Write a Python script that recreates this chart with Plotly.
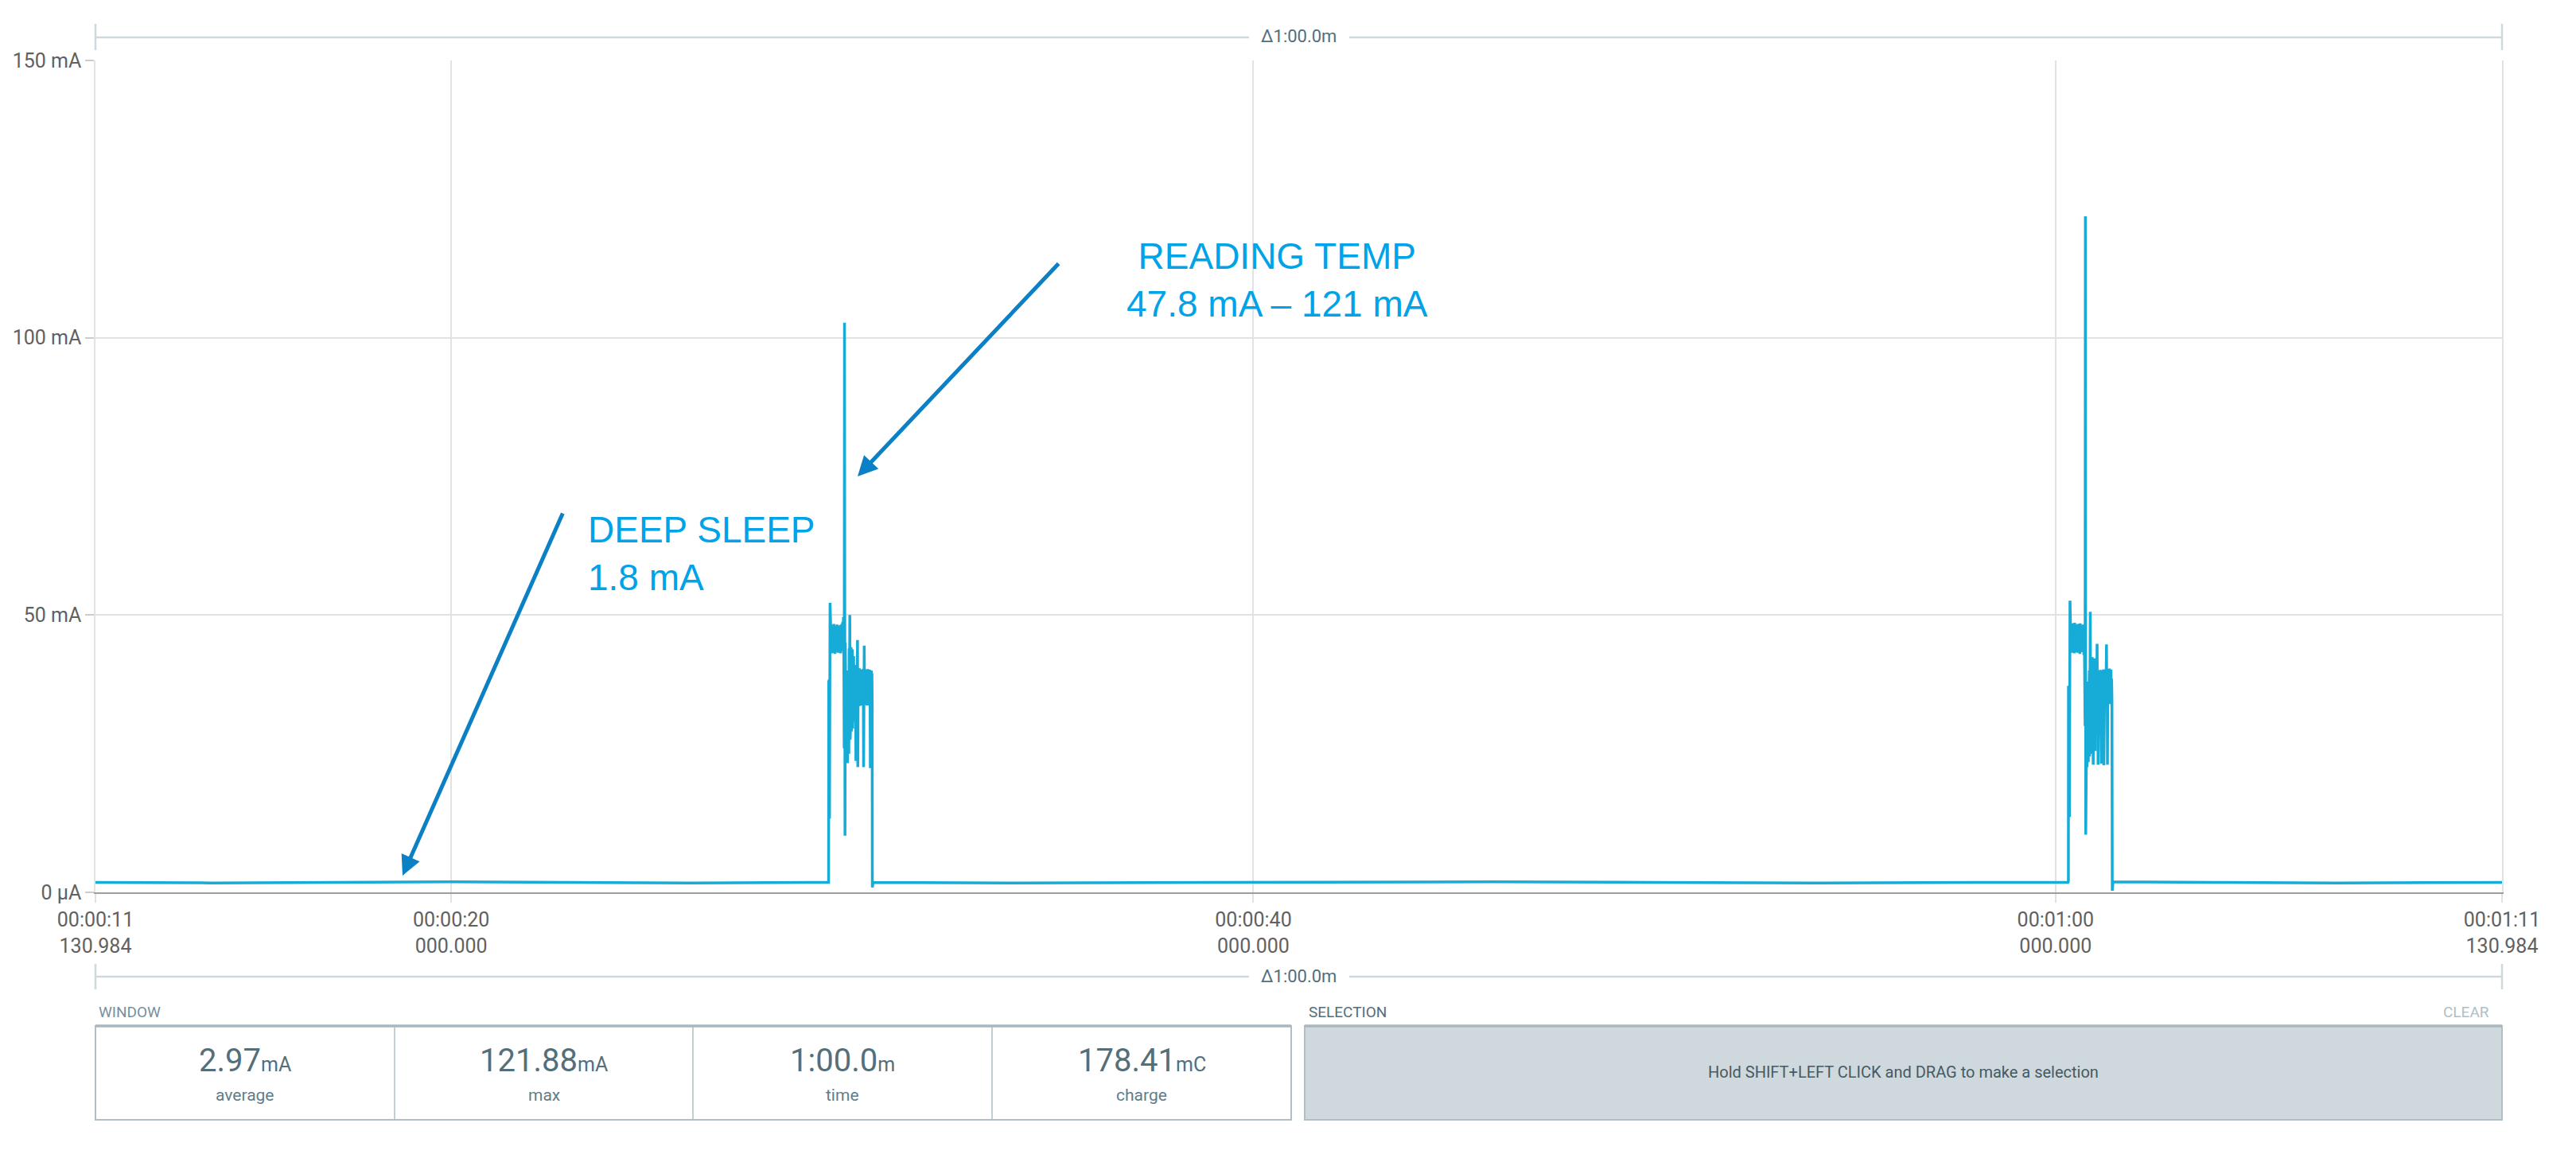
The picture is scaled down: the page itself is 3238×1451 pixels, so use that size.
import plotly.graph_objects as go

# ---- data ----------------------------------------------------------------
# deep sleep stretches (seconds, mA)
sleep1_t = [11.130984, 14.0, 17.0, 20.0, 23.0, 26.0, 29.400]
sleep1_ma = [1.8, 1.7, 1.8, 1.9, 1.8, 1.7, 1.8]
sleep2_t = [30.520, 34.0, 38.0, 42.0, 46.0, 50.0, 54.0, 58.0, 60.310]
sleep2_ma = [1.8, 1.7, 1.8, 1.8, 1.9, 1.8, 1.7, 1.8, 1.8]
sleep3_t = [61.432, 64.0, 67.0, 71.130984]
sleep3_ma = [1.9, 1.8, 1.7, 1.8]

# first wake-up burst (reading temperature)
burst1_t = [
    29.410, 29.412, 29.428, 29.432, 29.446, 29.452,
    29.460, 29.470, 29.480, 29.490, 29.500, 29.510, 29.520, 29.530, 29.540,
    29.550, 29.560, 29.570, 29.580, 29.590, 29.600, 29.610, 29.620, 29.630,
    29.640, 29.650, 29.660, 29.670, 29.680, 29.690, 29.700, 29.710, 29.720,
    29.730, 29.740, 29.750, 29.760, 29.770, 29.780, 29.790,
    29.798, 29.806, 29.812, 29.818, 29.826, 29.834, 29.842, 29.850, 29.858,
    29.866, 29.874, 29.882, 29.890, 29.898, 29.906, 29.914, 29.922, 29.930,
    29.938, 29.946, 29.954, 29.962, 29.970, 29.978, 29.986, 29.994, 30.002,
    30.010, 30.018, 30.026, 30.034, 30.042, 30.050, 30.058, 30.066, 30.074,
    30.082, 30.090, 30.098, 30.106, 30.114, 30.122, 30.130, 30.138, 30.146,
    30.154, 30.162, 30.170, 30.178, 30.186, 30.194, 30.202, 30.210, 30.218,
    30.226, 30.234, 30.242, 30.250, 30.258, 30.266, 30.274, 30.282, 30.290,
    30.298, 30.306, 30.314, 30.322, 30.330, 30.338, 30.346, 30.354, 30.362,
    30.370, 30.378, 30.386, 30.394, 30.402, 30.410, 30.418, 30.426, 30.434,
    30.442, 30.450, 30.458, 30.466, 30.474, 30.482, 30.490, 30.496, 30.500,
    30.510,
]
burst1_ma = [
    1.8, 38.0, 38.3, 13.3, 52.2, 44.5,
    48.3, 43.4, 47.9, 43.1, 48.2, 43.6, 47.7, 43.2, 48.4,
    43.5, 47.9, 43.0, 48.1, 43.7, 47.8, 43.3, 48.3, 43.6,
    47.9, 43.2, 48.0, 43.8, 47.6, 43.4, 48.2, 43.1, 47.8,
    43.5, 48.4, 43.9, 48.8, 44.2, 49.6, 42.0,
    26.0, 102.7, 82.4, 10.2, 45.0, 26.0, 41.0, 23.5, 38.0,
    27.0, 36.5, 23.3, 40.0, 28.0, 37.0, 25.0, 44.0, 30.0,
    50.0, 27.5, 42.0, 31.0, 44.2, 29.0, 41.5, 33.0, 43.8,
    29.5, 40.8, 33.6, 42.6, 30.8, 40.2, 34.0, 41.0, 31.5,
    40.0, 23.7, 39.4, 33.9, 40.6, 34.2, 45.5, 22.6, 40.3,
    33.8, 39.7, 34.5, 40.4, 33.6, 39.9, 34.1, 40.2, 33.9,
    39.6, 34.4, 40.1, 33.7, 39.8, 34.2, 40.3, 22.6, 39.5,
    44.5, 33.8, 40.0, 34.5, 39.6, 33.9, 40.2, 34.3, 39.8,
    33.7, 40.1, 34.6, 40.0, 34.0, 39.7, 33.8, 40.2, 34.4,
    39.9, 22.4, 39.8, 34.1, 40.0, 34.5, 39.5, 34.7, 0.9,
    1.8,
]

# second wake-up burst
burst2_t = [
    60.320, 60.322, 60.340, 60.346, 60.360, 60.368,
    60.376, 60.386, 60.396, 60.406, 60.416, 60.426, 60.436, 60.446, 60.456,
    60.466, 60.476, 60.486, 60.496, 60.506, 60.516, 60.526, 60.536, 60.546,
    60.556, 60.566, 60.576, 60.586, 60.596, 60.606, 60.616, 60.626, 60.636,
    60.646, 60.656, 60.666, 60.676, 60.686, 60.696, 60.706, 60.716, 60.726,
    60.736, 60.744, 60.752, 60.760, 60.768, 60.776, 60.784, 60.792, 60.800,
    60.808, 60.816, 60.824, 60.832, 60.842, 60.850, 60.858, 60.866, 60.874,
    60.882, 60.890, 60.898, 60.906, 60.914, 60.922, 60.930, 60.938, 60.946,
    60.954, 60.962, 60.970, 60.978, 60.986, 60.994, 61.002, 61.010, 61.018,
    61.026, 61.036, 61.044, 61.052, 61.060, 61.068, 61.076, 61.084, 61.092,
    61.100, 61.108, 61.116, 61.124, 61.132, 61.140, 61.148, 61.156, 61.164,
    61.172, 61.180, 61.188, 61.196, 61.204, 61.212, 61.220, 61.228, 61.236,
    61.244, 61.252, 61.262, 61.270, 61.278, 61.286, 61.294, 61.302, 61.310,
    61.318, 61.326, 61.334, 61.342, 61.350, 61.358, 61.366, 61.374, 61.382,
    61.390, 61.398, 61.406, 61.414, 61.422,
]
burst2_ma = [
    2.0, 37.0, 37.0, 13.6, 52.6, 44.5,
    48.4, 43.3, 48.0, 43.6, 48.5, 43.2, 47.8, 43.7, 48.2,
    43.1, 48.6, 43.5, 47.9, 43.3, 48.3, 43.8, 48.0, 43.2,
    48.4, 43.6, 47.7, 43.4, 48.1, 43.0, 48.5, 43.5, 47.9,
    43.3, 48.2, 43.7, 48.0, 43.4, 48.3, 42.8, 48.1, 42.0,
    30.0, 121.88, 10.4, 37.4, 24.0, 36.0, 22.6, 35.0, 27.0,
    38.0, 23.5, 36.5, 29.0, 40.0, 24.5, 37.0, 50.6, 26.0,
    42.0, 30.5, 41.5, 25.0, 42.4, 33.0, 40.0, 23.0, 41.0,
    34.0, 42.2, 31.5, 40.8, 25.5, 41.8, 34.6, 40.5, 33.2,
    41.0, 44.8, 34.0, 39.9, 23.0, 39.5, 34.2, 40.0, 33.8,
    39.7, 34.5, 40.1, 34.0, 39.8, 23.2, 39.6, 34.3, 40.0,
    33.9, 39.8, 34.4, 40.2, 22.9, 39.7, 34.1, 39.9, 33.8,
    40.0, 34.5, 39.6, 44.7, 34.0, 39.8, 23.0, 40.1, 34.6,
    39.5, 33.9, 40.3, 34.2, 40.0, 34.5, 39.6, 34.0, 40.2,
    34.5, 38.5, 34.5, 0.3, 1.9,
]

ytick_vals = [0, 50, 100, 150]
ytick_text = ["0 μA", "50 mA", "100 mA", "150 mA"]
xtick_vals = [11.130984, 20, 40, 60, 71.130984]
xtick_text = ["00:00:11<br>130.984", "00:00:20<br>000.000", "00:00:40<br>000.000",
              "00:01:00<br>000.000", "00:01:11<br>130.984"]
window_span = "Δ1:00.0m"

stat_values = ["2.97", "121.88", "1:00.0", "178.41"]
stat_units = ["mA", "mA", "m", "mC"]
stat_labels = ["average", "max", "time", "charge"]

# ---- figure ----------------------------------------------------------------
# page body adds an 8px margin, so the figure is 8px smaller and all
# screen positions below are given in window pixels and shifted back
OFF = 8
W, H = 3238 - OFF, 1451 - OFF
L, T = 120 - OFF, 76 - OFF
R = W - (3145 - OFF)
B = H - (1122 - OFF)
PW, PH = W - L - R, H - T - B


def px(x):
    return (x - OFF - L) / PW


def py(y):
    return (H - B - (y - OFF)) / PH


t_all = sleep1_t + burst1_t + sleep2_t + burst2_t + sleep3_t
ma_all = sleep1_ma + burst1_ma + sleep2_ma + burst2_ma + sleep3_ma

fig = go.Figure(
    go.Scatter(
        x=t_all, y=ma_all, mode="lines",
        line=dict(color="#17abd7", width=3.5),
        hoverinfo="skip",
    )
)

GRID = "#e2e2e2"
LINE = "#cfd8dc"
BORDER = "#b0bec5"
TICKFONT = dict(family="Roboto", size=25, color="#616161")

shapes = []


def seg(x0, y0, x1, y1, color, width):
    shapes.append(dict(type="line", xref="paper", yref="paper",
                       x0=px(x0), y0=py(y0), x1=px(x1), y1=py(y1),
                       line=dict(color=color, width=width), layer="above"))


def box(x0, y0, x1, y1, fill, color, width):
    shapes.append(dict(type="rect", xref="paper", yref="paper",
                       x0=px(x0), y0=py(y0), x1=px(x1), y1=py(y1),
                       fillcolor=fill, line=dict(color=color, width=width),
                       layer="below"))


# span brackets above and below the plot (broken around the label)
for yb, y0, y1 in [(47, 30, 63), (1228, 1212, 1244)]:
    seg(120, yb, 1570, yb, LINE, 2.5)
    seg(1696, yb, 3145, yb, LINE, 2.5)
    seg(120, y0, 120, y1, LINE, 2.5)
    seg(3145, y0, 3145, y1, LINE, 2.5)

# window stats panel and selection panel
box(120, 1290, 1623, 1408, "white", BORDER, 2)
for xd in [496, 871, 1247]:
    seg(xd, 1290, xd, 1408, BORDER, 1.5)
seg(120, 1290, 1623, 1290, "#a9b8c0", 3.5)
box(1640, 1290, 3145, 1408, "#cfd8dc", BORDER, 2)
seg(1640, 1290, 3145, 1290, "#a9b8c0", 3.5)

ann = []


def text(x, y, s, size, color, xanchor="center", family="Roboto", **kw):
    ann.append(dict(x=px(x), y=py(y), xref="paper", yref="paper", text=s,
                    showarrow=False, xanchor=xanchor, yanchor="middle",
                    font=dict(family=family, size=size, color=color), **kw))


text(1633, 45, window_span, 22, "#546e7a")
text(1633, 1227, window_span, 22, "#546e7a")

text(122, 1272, "WINDOW", 19, "#78909c", xanchor="left")
text(1643, 1272, "SELECTION", 19, "#546e7a", xanchor="left")
text(3131, 1272, "CLEAR", 19, "#b0bec5", xanchor="right")
cells = [120, 496, 871, 1247, 1623]
for i in range(4):
    cx = (cells[i] + cells[i + 1]) / 2
    text(cx, 1333, f"{stat_values[i]}<span style='font-size:25px'>{stat_units[i]}</span>",
         40, "#546e7a")
    text(cx, 1377, stat_labels[i], 21, "#607d8b")
text(2392, 1348, "Hold SHIFT+LEFT CLICK and DRAG to make a selection", 20, "#455a64")

# callouts
BLUE = "#00a2e8"
text(1605, 352, "READING TEMP<br>47.8 mA – 121 mA", 46, BLUE,
     family="Liberation Sans, Arial", align="center")
text(737, 696, "DEEP SLEEP<br>1.8 mA", 46, BLUE, xanchor="left",
     family="Liberation Sans, Arial", align="left")

for (tx, ty), (sx, sy) in [((1078, 599), (1332, 330)), ((506, 1101), (708, 644))]:
    ann.append(dict(x=px(tx), y=py(ty), xref="paper", yref="paper", text="",
                    showarrow=True, ax=sx - tx, ay=sy - ty, arrowhead=2,
                    arrowsize=1.0, arrowwidth=5, arrowcolor="#0b80c4", standoff=0))

fig.update_layout(
    width=W, height=H,
    margin=dict(l=L, r=R, t=T, b=B, autoexpand=False),
    paper_bgcolor="white", plot_bgcolor="white",
    showlegend=False,
    shapes=shapes, annotations=ann,
    xaxis=dict(
        range=[11.130984, 71.130984], tickvals=xtick_vals, ticktext=xtick_text,
        showgrid=True, gridcolor=GRID, gridwidth=1.5, zeroline=False,
        showline=True, linecolor="#9e9e9e", linewidth=2,
        ticks="outside", ticklen=11, tickcolor=GRID, tickwidth=1.5,
        tickfont=TICKFONT, automargin=False,
    ),
    yaxis=dict(
        range=[0, 150], tickvals=ytick_vals, ticktext=ytick_text,
        showgrid=True, gridcolor=GRID, gridwidth=1.5, zeroline=False,
        showline=True, linecolor=GRID, linewidth=1.5, mirror=True,
        ticks="outside", ticklen=11, tickcolor="#cccccc", tickwidth=1.5,
        tickfont=TICKFONT, automargin=False,
    ),
)

fig.write_html("out.html")
